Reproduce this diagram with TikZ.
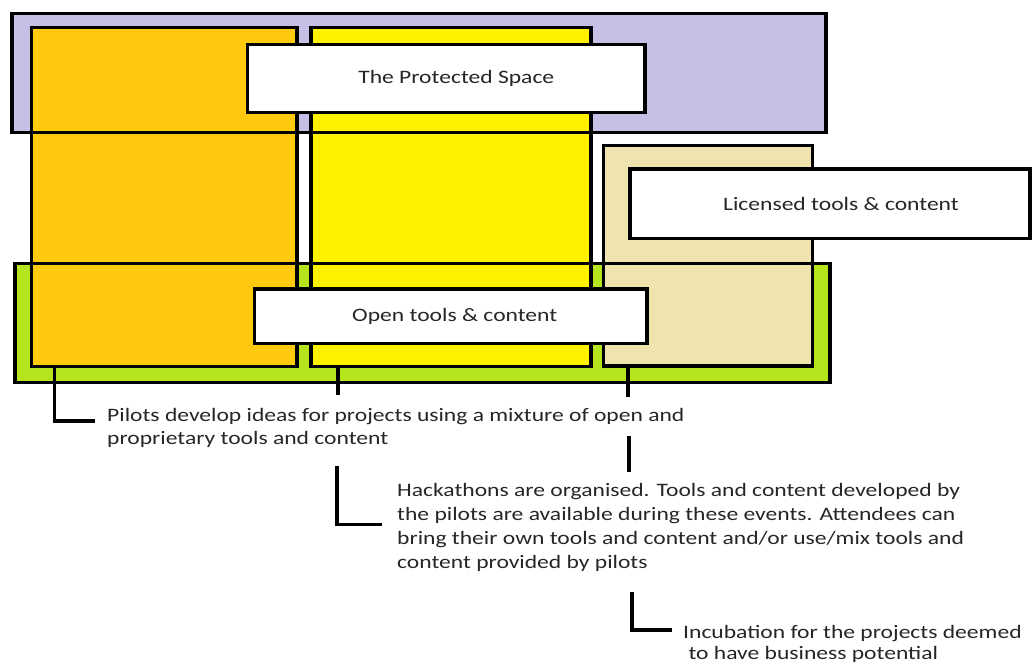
\documentclass[tikz,border=0pt]{standalone}
\usepackage{fontspec}
\setmainfont{Carlito}[FakeStretch=1.24]
\usetikzlibrary{positioning}

\definecolor{lavender}{RGB}{200,191,231}
\definecolor{gold}{RGB}{255,201,14}
\definecolor{lemon}{RGB}{255,242,0}
\definecolor{cream}{RGB}{239,228,176}
\definecolor{lime}{RGB}{181,230,29}

\tikzset{
  zone/.style={anchor=north west, inner sep=0pt, outer sep=0pt},
  frame/.style={line width=3.6pt},
  tag/.style={zone, draw, fill=white, line width=3.6pt, text=black!85,
    font=\fontsize{19}{23}\selectfont},
  note/.style={anchor=base west, align=left, inner sep=0pt, text=black!85},
  leader/.style={line width=3.2pt}
}

\begin{document}
\begin{tikzpicture}[x=1pt,y=-1pt]
    \useasboundingbox (0,0) rectangle (1035,664);
    % coloured zones, fills first
    \node[zone, fill=lavender, minimum width=814pt, minimum height=119pt] (space) at (12,13.5) {};
    \node[zone, fill=lime, minimum width=815pt, minimum height=119pt] (open) at (15,263.5) {};
    \node[zone, fill=gold, minimum width=265.5pt, minimum height=339pt] (pilots) at (31.5,27.5) {};
    \node[zone, fill=lemon, minimum width=280pt, minimum height=339pt] (hack) at (311,27.5) {};
    \node[zone, fill=cream, minimum width=209pt, minimum height=220.5pt] (incub) at (603.5,145.5) {};
    % then all the frames on top
    \foreach \z in {space,open,pilots,hack,incub}
        \draw[frame] (\z.north west) rectangle (\z.south east);
    % labels
    \node[tag, minimum width=397.5pt, minimum height=68pt] (spacetag) at (247.5,44.5) {\hspace*{20pt}The Protected Space};
    \node[tag, minimum width=400pt, minimum height=69.5pt] (lictag) at (630,169) {\hspace*{22pt}Licensed tools \& content};
    \node[tag, minimum width=392.5pt, minimum height=54.5pt] (opentag) at (254.5,289) {\hspace*{8pt}Open tools \& content};
    % notes (base = last line)
    \node[note, font=\fontsize{19}{23.3}\selectfont] (pilotsnote) at (107,444.3) {Pilots develop ideas for projects using a mixture of open and\\proprietary tools and content};
    \node[note, font=\fontsize{19}{24}\selectfont] (hacknote) at (397,568) {Hackathons are organised. Tools and content developed by\\the pilots are available during these events. Attendees can\\bring their own tools and content and/or use/mix tools and\\content provided by pilots};
    \node[note, font=\fontsize{19}{20.8}\selectfont] (incubnote) at (683,659.5) {Incubation for the projects deemed\\\ to have business potential};
    % leaders
    \coordinate (p1) at (54.5,421);
    \coordinate (h1) at (338,395);
    \coordinate (h2) at (337,466);
    \coordinate (h3) at (337,524.5);
    \coordinate (i1) at (628,397);
    \coordinate (i2) at (629,436);
    \coordinate (i3) at (629,472);
    \coordinate (i4) at (632,592);
    \coordinate (i5) at (632,630);
    \draw[leader, shorten >=12pt] (p1 |- pilots.south) -- (p1) -- (p1 -| pilotsnote.west);
    \draw[leader] (h1 |- hack.south) -- (h1);
    \draw[leader, shorten >=15pt] (h2) -- (h3) -- (h3 -| hacknote.west);
    \draw[leader] (i1 |- incub.south) -- (i1);
    \draw[leader] (i2) -- (i3);
    \draw[leader, shorten >=11pt] (i4) -- (i5) -- (i5 -| incubnote.west);
\end{tikzpicture}
\end{document}
